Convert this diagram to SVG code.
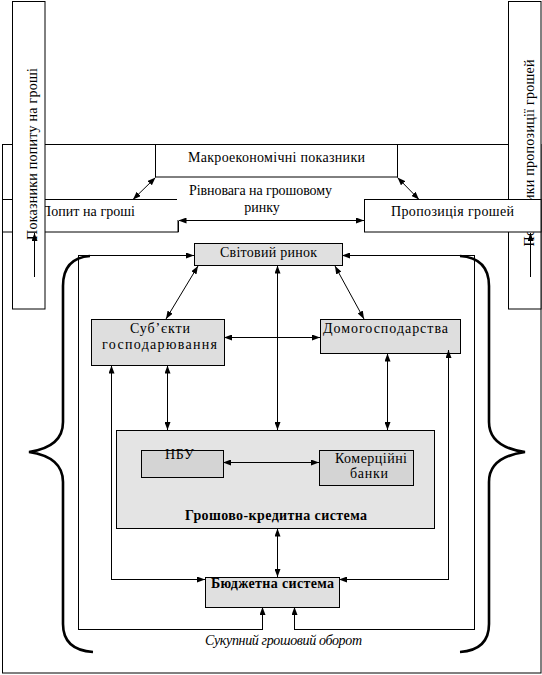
<svg xmlns="http://www.w3.org/2000/svg" width="542" height="675" viewBox="0 0 542 675">
<style>
text{font-family:"Liberation Serif","Times New Roman",serif;font-size:14px;fill:#000}
.b{fill:#fff;stroke:#000;stroke-width:1}
.g{stroke:#000;stroke-width:1;shape-rendering:crispEdges}
.c{fill:none;stroke:#000;stroke-width:1}
.o{shape-rendering:crispEdges}
.br{fill:none;stroke:#000;stroke-width:2.6}
</style>
<defs>
<marker id="ah" viewBox="0 0 8 6" refX="8" refY="3" markerWidth="8" markerHeight="6" orient="auto-start-reverse" markerUnits="userSpaceOnUse"><path d="M0,0 L8,3 L0,6 z" fill="#000"/></marker>
</defs>
<rect width="542" height="675" fill="#fff"/>
<g id="frame"><rect x="2.5" y="144.5" width="538.5" height="528.5" class="b"/></g>
<g id="popyt"><rect x="2.5" y="199.5" width="175.5" height="32.5" class="b"/><text x="41" y="216" textLength="94" lengthAdjust="spacing">Попит на гроші</text></g>
<g id="pokaz-popyt"><rect x="12.5" y="1.5" width="32.5" height="307.5" class="b"/><text transform="translate(37,154) rotate(-90)" text-anchor="middle" textLength="172" lengthAdjust="spacing">Показники попиту на гроші</text></g>
<g id="pokaz-propoz"><rect x="508.5" y="1.5" width="32.5" height="307.5" class="b"/><text transform="translate(534,153) rotate(-90)" text-anchor="middle" textLength="187" lengthAdjust="spacing">Показники пропозиції грошей</text></g>
<g id="propoz"><rect x="364.5" y="199.5" width="176.5" height="32.5" class="b"/><text x="391" y="216" textLength="123" lengthAdjust="spacing">Пропозиція грошей</text></g>
<g id="makro"><rect x="155.5" y="144.5" width="242" height="32.5" class="b"/><text x="188" y="162" textLength="177" lengthAdjust="spacing">Макроекономічні показники</text></g>
<g id="rivnovaga"><rect x="177" y="178" width="176" height="42" fill="#fff"/><text x="189" y="195" textLength="143" lengthAdjust="spacing">Рівновага на грошовому</text><text x="262" y="212" text-anchor="middle">ринку</text></g>
<g id="braces">
<path class="br" d="M90,256 Q63,258 63,286 L63,422 Q63,447 29,452 Q63,457 63,482 L63,624 Q63,650 93,652"/>
<path class="br" d="M460,256 Q489,258 489,286 L489,422 Q489,447 525,452 Q489,457 489,482 L489,624 Q489,650 460,652"/>
</g>
<g id="svitovyi"><rect x="194.5" y="243.5" width="147.5" height="21.5" class="g" fill="#e0e0e0"/><text x="220" y="257" textLength="97" lengthAdjust="spacing">Світовий ринок</text></g>
<g id="subiekty"><rect x="91.5" y="319.5" width="132.5" height="45.5" class="g" fill="#dedede"/><text x="130" y="333" textLength="60" lengthAdjust="spacing">Суб’єкти</text><text x="102" y="349" textLength="115" lengthAdjust="spacing">господарювання</text></g>
<g id="domogosp"><rect x="320.5" y="319.5" width="139.5" height="33.5" class="g" fill="#dedede"/><text x="323" y="333" textLength="125" lengthAdjust="spacing">Домогосподарства</text></g>
<g id="gks"><rect x="116.5" y="430.5" width="317.5" height="97.5" class="g" fill="#e4e4e4"/><text x="185" y="520" font-weight="bold" textLength="182" lengthAdjust="spacing">Грошово-кредитна система</text></g>
<g id="nbu"><rect x="141.5" y="450.5" width="81.5" height="26.5" class="g" fill="#d4d4d4"/><text x="165" y="459" textLength="29" lengthAdjust="spacing">НБУ</text></g>
<g id="komerc"><rect x="319.5" y="450.5" width="93.5" height="34.5" class="g" fill="#d4d4d4"/><text x="335" y="463" textLength="72" lengthAdjust="spacing">Комерційні</text><text x="350" y="478" textLength="38" lengthAdjust="spacing">банки</text></g>
<g id="budzhet"><rect x="205.5" y="577.5" width="133.5" height="29.5" class="g" fill="#e0e0e0"/><text x="211" y="588" font-weight="bold" textLength="123" lengthAdjust="spacing">Бюджетна система</text></g>
<g id="sukupnyi"><text x="205" y="645" font-style="italic" textLength="157" lengthAdjust="spacing">Сукупний грошовий оборот</text></g>
<g id="connectors">
<path class="c" d="M155.5,177.5 L133,199.5" marker-start="url(#ah)" marker-end="url(#ah)"/>
<path class="c" d="M397.5,177.5 L419,199.5" marker-start="url(#ah)" marker-end="url(#ah)"/>
<path class="c o" d="M178.5,220.5 H364" marker-start="url(#ah)" marker-end="url(#ah)"/>
<path class="c o" d="M178.5,220.5 V232"/>
<path class="c o" d="M34.5,277 V233" marker-end="url(#ah)"/>
<path class="c o" d="M530.5,277 V233" marker-end="url(#ah)"/>
<path class="c o" d="M194,255.5 H78.5 V629.5 H262.5 V607" marker-start="url(#ah)" marker-end="url(#ah)"/>
<path class="c o" d="M342,255.5 H474.5 V629.5 H294.5 V607" marker-start="url(#ah)" marker-end="url(#ah)"/>
<path class="c" d="M198,266 L166,319" marker-start="url(#ah)" marker-end="url(#ah)"/>
<path class="c" d="M335,266 L364,319" marker-start="url(#ah)" marker-end="url(#ah)"/>
<path class="c o" d="M224,337.5 H320" marker-start="url(#ah)" marker-end="url(#ah)"/>
<path class="c o" d="M277.5,265.5 V430" marker-start="url(#ah)" marker-end="url(#ah)"/>
<path class="c o" d="M167.5,365.5 V430" marker-start="url(#ah)" marker-end="url(#ah)"/>
<path class="c o" d="M387.5,353.5 V430" marker-start="url(#ah)" marker-end="url(#ah)"/>
<path class="c o" d="M111.5,365.5 V579.5 H205" marker-start="url(#ah)" marker-end="url(#ah)"/>
<path class="c o" d="M448.5,350 V579.5 H339" marker-start="url(#ah)" marker-end="url(#ah)"/>
<path class="c o" d="M223,462.5 H319" marker-start="url(#ah)" marker-end="url(#ah)"/>
<path class="c o" d="M277.5,528.5 V577" marker-start="url(#ah)" marker-end="url(#ah)"/>
</g>
</svg>
